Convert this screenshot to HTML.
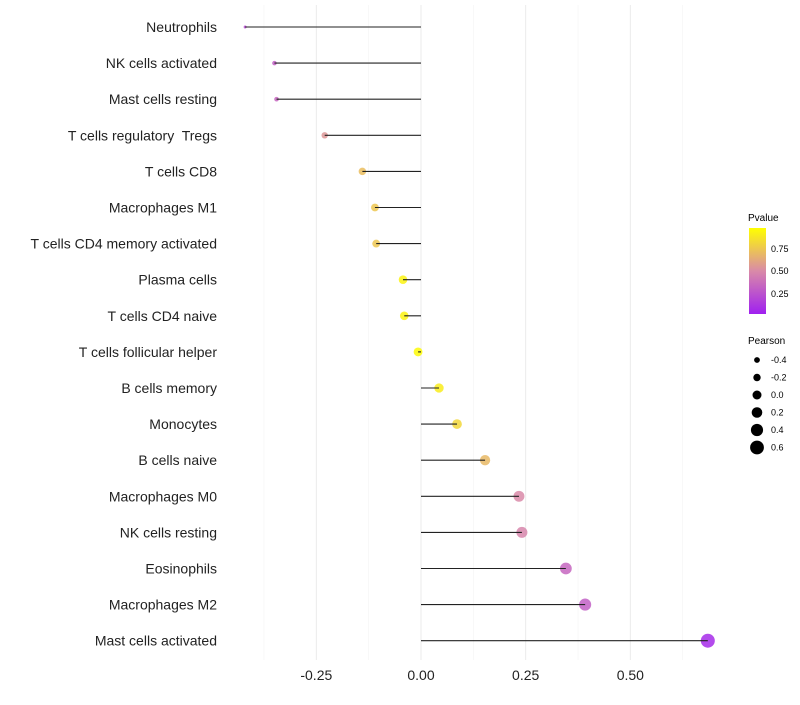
<!DOCTYPE html>
<html><head><meta charset="utf-8"><style>
body{margin:0;background:#fff;font-family:"Liberation Sans",sans-serif}
text{white-space:pre}
</style></head><body>
<svg id="c" width="800" height="700" xmlns="http://www.w3.org/2000/svg">
<defs><linearGradient id="g" x1="0" y1="1" x2="0" y2="0">
<stop offset="0" stop-color="#a020f0"/><stop offset="0.5" stop-color="#d98aa8"/><stop offset="1" stop-color="#ffff00"/></linearGradient></defs>
<g id="grid"></g><g id="pts"></g><g id="marks"></g><g id="labels"></g>
<g font-size="9">
<text x="748" y="221" font-size="10">Pvalue</text>
<rect x="749" y="228" width="17" height="86" fill="url(#g)"/>
<text x="771" y="252">0.75</text>
<text x="771" y="274">0.50</text>
<text x="771" y="297">0.25</text>
<text x="748" y="344" font-size="10">Pearson</text>
<g id="sizeleg"></g>
</g>
</svg>
<script>
const categories=["Neutrophils","NK cells activated","Mast cells resting","T cells regulatory  Tregs","T cells CD8","Macrophages M1","T cells CD4 memory activated","Plasma cells","T cells CD4 naive","T cells follicular helper","B cells memory","Monocytes","B cells naive","Macrophages M0","NK cells resting","Eosinophils","Macrophages M2","Mast cells activated"];
const pearson=[-0.42,-0.35,-0.345,-0.23,-0.14,-0.11,-0.107,-0.043,-0.04,-0.007,0.043,0.086,0.153,0.234,0.241,0.346,0.392,0.685];
const pvalue=[0.2,0.3,0.33,0.55,0.72,0.76,0.76,0.95,0.95,0.98,0.92,0.83,0.7,0.5,0.48,0.33,0.3,0.05];
const xTicks=[-0.25,0,0.25,0.5];
const xTickLabels=["-0.25","0.00","0.25","0.50"];
const sizeLegend=[-0.4,-0.2,0,0.2,0.4,0.6];
const NS="http://www.w3.org/2000/svg";
const xs=v=>421+v*418.7;
const ys=i=>27+i*36.1;
const rs=v=>Math.sqrt(Math.max(1,2.25+42.3*(v+0.42)));
const rl=v=>4.5+4*v;
function lerp(a,b,t){return a.map((x,i)=>Math.round(x+(b[i]-x)*t));}
function col(p){const A=[160,32,240],M=[217,138,168],B=[255,255,0];const c=p<0.5?lerp(A,M,p/0.5):lerp(M,B,(p-0.5)/0.5);return `rgb(${c})`;}
function mk(t,a,parent){const e=document.createElementNS(NS,t);for(const k in a)e.setAttribute(k,a[k]);document.getElementById(parent).appendChild(e);return e;}
[-0.375,-0.125,0.125,0.375,0.625].forEach(v=>{const l=mk('line',{x1:xs(v),x2:xs(v),y1:5,y2:660,stroke:'#f3f3f3','stroke-width':0.6},'grid');

});
xTicks.forEach((v,i)=>{const l=mk('line',{x1:xs(v),x2:xs(v),y1:5,y2:660,stroke:'#ebebeb','stroke-width':1},'grid');


const t=mk('text',{x:xs(v),y:680,'text-anchor':'middle','font-size':14,fill:'#222'},'labels');t.textContent=xTickLabels[i];

});
categories.forEach((c,i)=>{const y=ys(i);
const d=mk('circle',{cx:xs(pearson[i]),cy:y,r:rs(pearson[i]),fill:col(pvalue[i]),'fill-opacity':0.85},'pts');


const l=mk('line',{x1:xs(0),x2:xs(pearson[i]),y1:y,y2:y,stroke:'#222','stroke-width':1.1},'marks');


const t=mk('text',{x:217,y:y+5,'text-anchor':'end','font-size':14,fill:'#222'},'labels');t.textContent=c;

});
sizeLegend.forEach((v,i)=>{const y=360+i*17.5;
const d=mk('circle',{cx:757,cy:y,r:rl(v),fill:'#000'},'sizeleg');


const t=mk('text',{x:771,y:y+3,'font-size':9},'sizeleg');t.textContent=v.toFixed(1);

});
</script>
</body></html>
